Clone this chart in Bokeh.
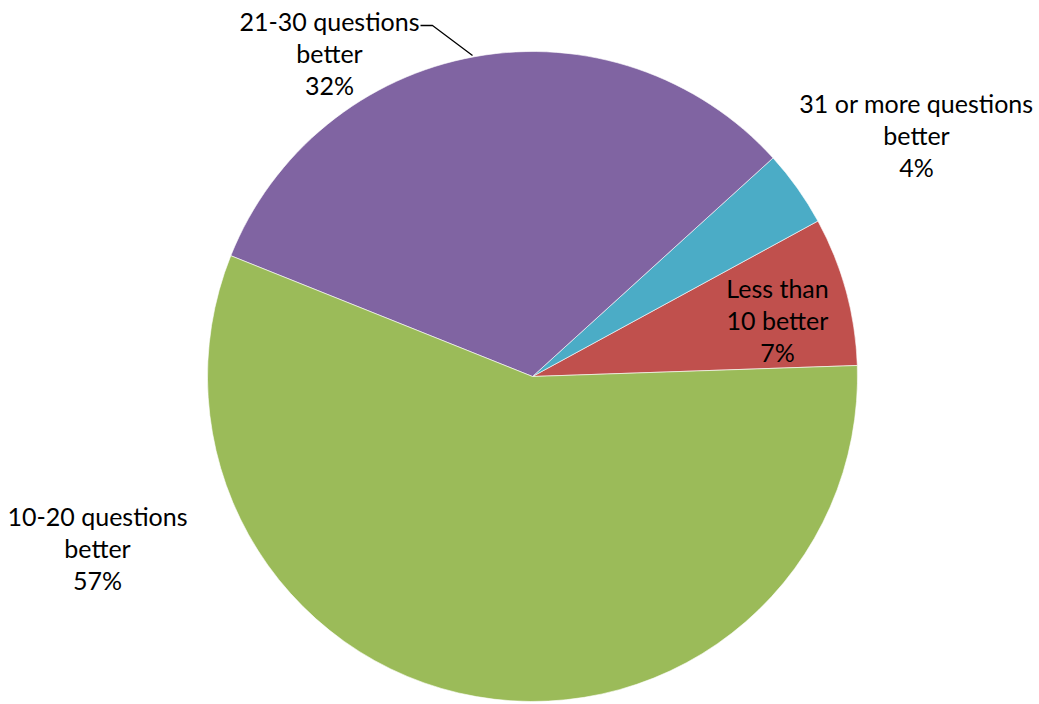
import math
from bokeh.plotting import figure
from bokeh.models import Range1d, ColumnDataSource
from bokeh.core.properties import value
from bokeh.embed import file_html
from bokeh.resources import INLINE

# ---- data ----
categories = ["Less than 10 better", "31 or more questions better",
              "21-30 questions better", "10-20 questions better"]
shares = [7.4, 3.8, 32.2, 56.6]
labels = ["Less than\n10 better\n7%", "31 or more questions\nbetter\n4%",
          "21-30 questions\nbetter\n32%", "10-20 questions\nbetter\n57%"]
colors = ["#C0504D", "#4BACC6", "#8064A2", "#9BBB59"]

# ---- layout (pixel space, y measured from top) ----
W, H = 1039, 704
CX, CY, R = 532, 376, 325
START_DEG = 1.94
label_pos = [(777, 287), (916, 102), (329, 20), (97, 515)]  # first-line centres
LINE_STEP = 32
leader = [(420, 25), (432, 25), (472, 55)]
FONT = "Lato"
FONT_SIZE = "25px"

p = figure(width=W, height=H, x_range=Range1d(0, W), y_range=Range1d(0, H),
           output_backend="svg", toolbar_location=None, min_border=0,
           outline_line_color=None)
p.axis.visible = False
p.grid.visible = False
p.background_fill_color = "white"
p.border_fill_color = "white"

total = sum(shares)
starts, ends = [], []
a = math.radians(START_DEG)
for s in shares:
    starts.append(a)
    a += 2 * math.pi * s / total
    ends.append(a)

src = ColumnDataSource(dict(start=starts, end=ends, color=colors, cat=categories))
p.wedge(x=CX, y=H - CY, radius=R, start_angle="start", end_angle="end",
        fill_color="color", line_color="white", line_width=0.6, source=src)

# labels, one glyph row per text line
tx, ty, tt = [], [], []
for lab, (lx, ly) in zip(labels, label_pos):
    for i, line in enumerate(lab.split("\n")):
        tx.append(lx)
        ty.append(H - (ly + i * LINE_STEP))
        tt.append(line)
p.text(x=tx, y=ty, text=tt, text_font=value(FONT), text_font_size=FONT_SIZE,
       text_align="center", text_baseline="middle", text_color="#000000")

p.line(x=[q[0] for q in leader], y=[H - q[1] for q in leader],
       line_color="black", line_width=1.3)

open("out.html", "w").write(file_html(p, INLINE))
